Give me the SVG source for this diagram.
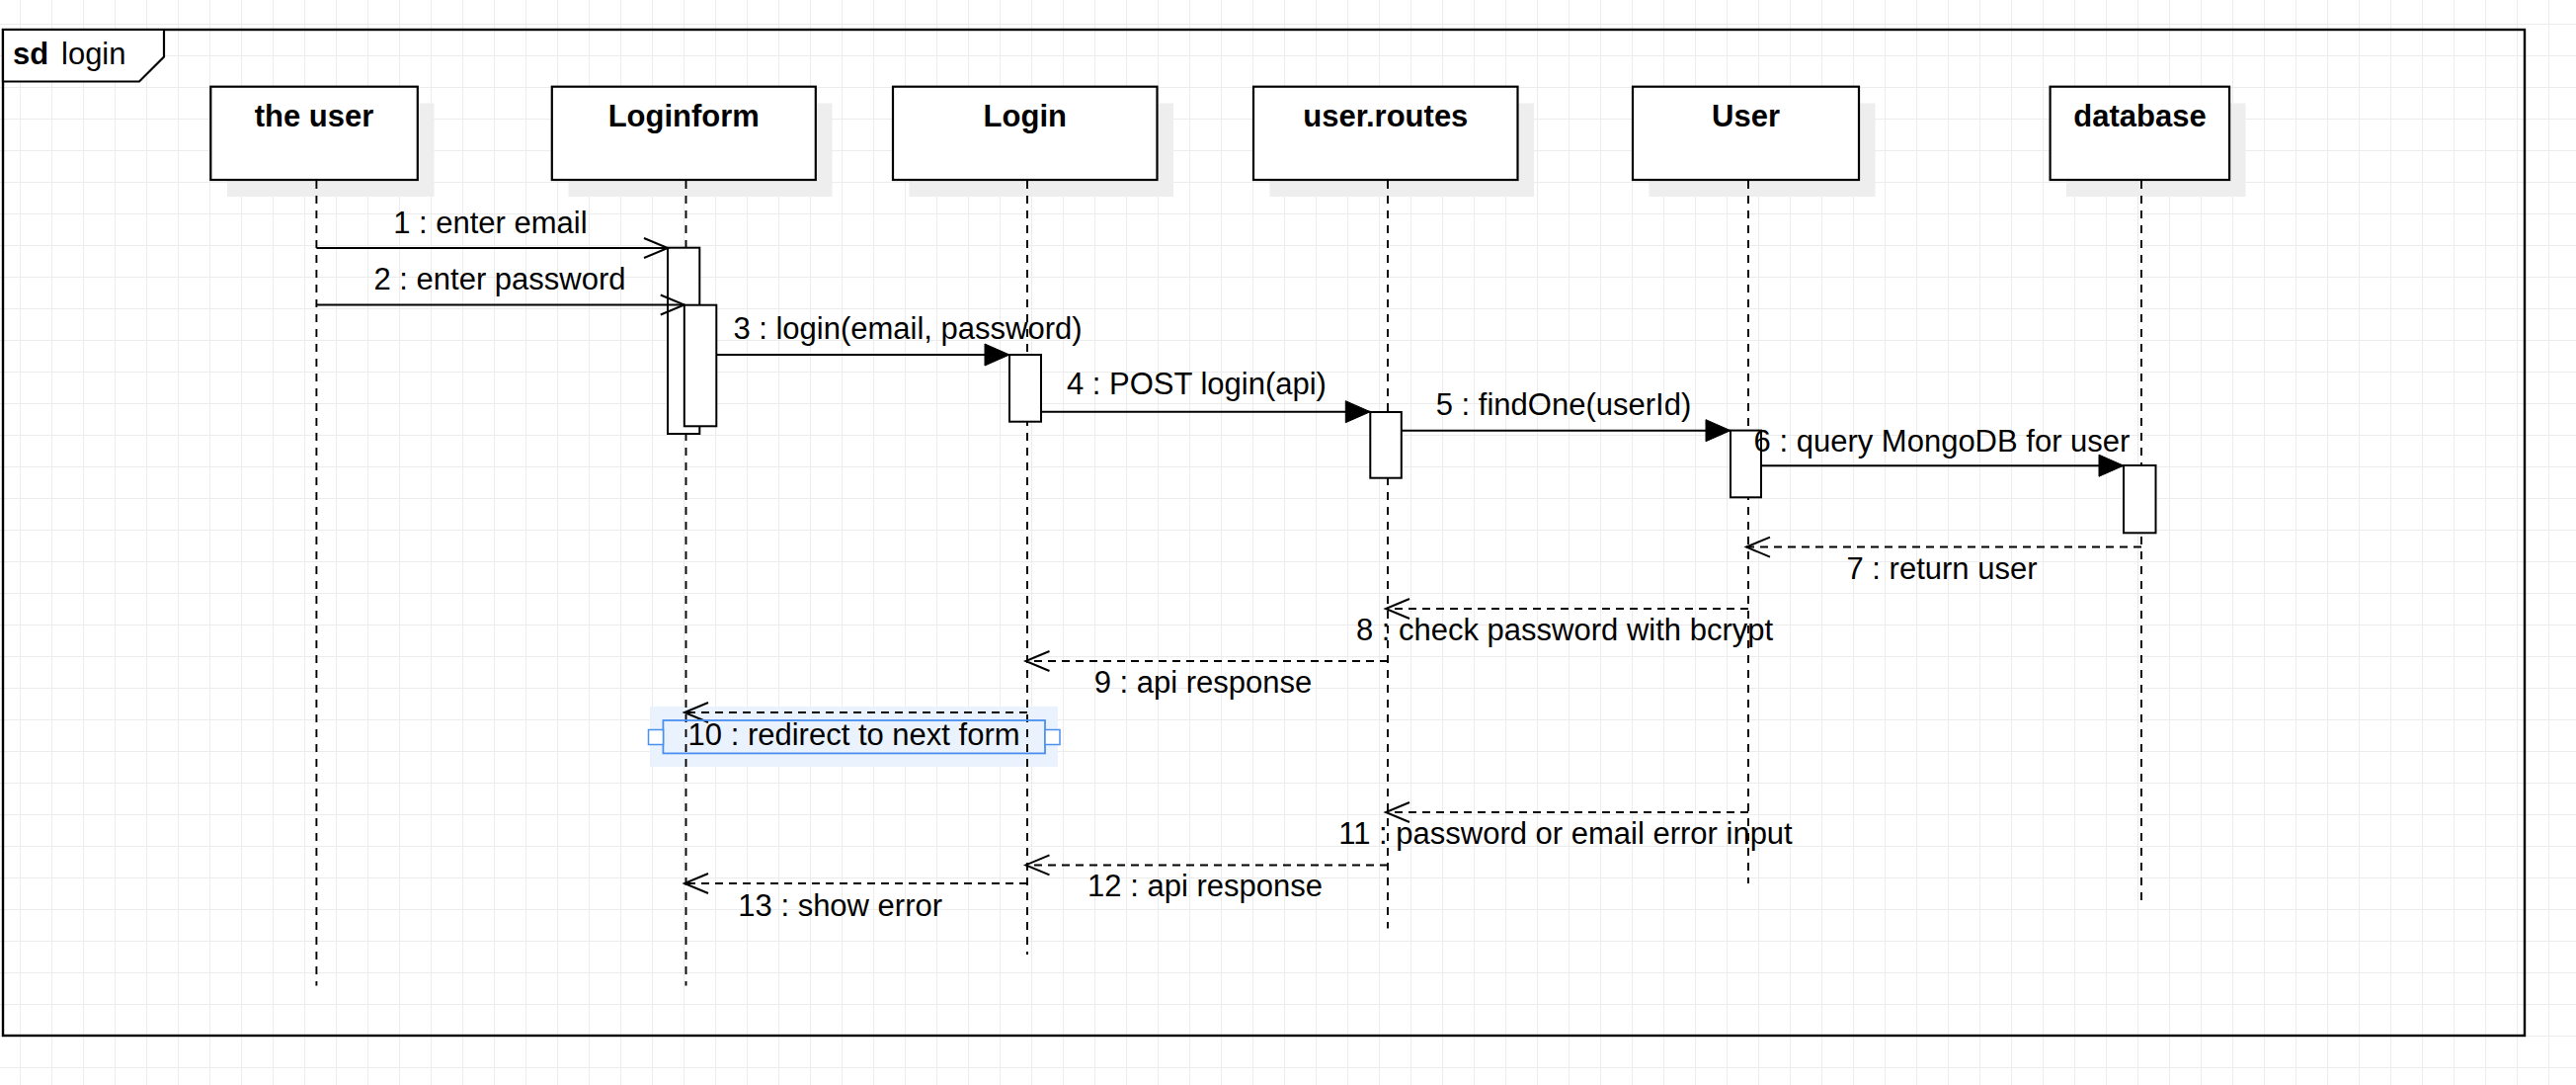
<svg xmlns="http://www.w3.org/2000/svg" width="2608" height="1098" viewBox="0 0 2608 1098">
  <style>
    text { font-family: "Liberation Sans", Arial, Helvetica, sans-serif; font-size: 31px; fill: #000; }
    .hdr { font-weight: bold; text-anchor: middle; }
    .lbl { text-anchor: middle; }
    .box { fill: #ffffff; stroke: #000; stroke-width: 2.2; }
    .shadow { fill: #eeeeee; stroke: none; }
    .life { fill: none; stroke: #000; stroke-width: 1.9; stroke-dasharray: 8 7; }
    .act { fill: #ffffff; stroke: #000; stroke-width: 2; }
    .msg { fill: none; stroke: #000; stroke-width: 2; }
    .sync { marker-end: url(#filled); }
    .open { marker-end: url(#openArrow); }
    .ret { stroke-dasharray: 8 6; marker-end: url(#openArrow); }
    .sel { fill: none; stroke: #4a90f0; stroke-width: 1.8; }
    .handle { fill: #ffffff; stroke: #4a90f0; stroke-width: 1.5; }
  </style>
  <defs>
    <pattern id="grid" patternUnits="userSpaceOnUse" x="20" y="24" width="32" height="32">
      <path d="M0.5,0 V32 M0,0.5 H32" fill="none" stroke="#ececec" stroke-width="1.2"/>
    </pattern>
    <marker id="filled" markerUnits="userSpaceOnUse" markerWidth="26" markerHeight="24" refX="25" refY="11" orient="auto" overflow="visible">
      <path d="M0,0 L25,11 L0,22 Z" fill="#000" stroke="#000" stroke-width="1"/>
    </marker>
    <marker id="openArrow" markerUnits="userSpaceOnUse" markerWidth="26" markerHeight="22" refX="24" refY="10" orient="auto" overflow="visible">
      <path d="M0,0 L24,10 L0,20" fill="none" stroke="#000" stroke-width="2"/>
    </marker>
  </defs>

  <rect x="0" y="0" width="2608" height="1098" fill="#ffffff"/>
  <rect x="0" y="0" width="2608" height="1098" fill="url(#grid)"/>

  <g id="frame">
    <rect x="3" y="30" width="2553" height="1018" fill="none" stroke="#000" stroke-width="2.4"/>
    <path d="M3,30 H166 V57.5 L141,82.5 H3 Z" fill="#ffffff" stroke="#000" stroke-width="2.2"/>
    <text x="13" y="65" font-weight="bold">sd</text>
    <text x="62" y="65">login</text>
  </g>

  <!-- highlight behind selected label 10 -->
  <rect id="selection-highlight" x="658" y="715" width="413" height="61" fill="#e9f2fd"/>

  <g id="lifeline-theuser">
    <rect class="shadow" x="230" y="104.5" width="209.5" height="94.5"/>
    <rect class="box" x="213.3" y="87.7" width="209.5" height="94.3"/>
    <text class="hdr" x="318" y="127.5">the user</text>
    <path class="life" d="M320.4,183 V997.5"/>
  </g>

  <g id="lifeline-loginform">
    <rect class="shadow" x="575.5" y="104.5" width="267" height="94.5"/>
    <rect class="box" x="558.8" y="87.7" width="267" height="94.3"/>
    <text class="hdr" x="692.3" y="127.5">Loginform</text>
    <path class="life" d="M694.5,183 V997.5"/>
    <rect class="act" x="676" y="250.7" width="32.3" height="188.3"/>
    <rect class="act" x="692.8" y="308.7" width="32.5" height="122.6"/>
  </g>

  <g id="lifeline-login">
    <rect class="shadow" x="920.5" y="104.5" width="267.5" height="94.5"/>
    <rect class="box" x="904" y="87.7" width="267.5" height="94.3"/>
    <text class="hdr" x="1037.8" y="127.5">Login</text>
    <path class="life" d="M1040,183 V966"/>
    <rect class="act" x="1022" y="359" width="32" height="67.7"/>
  </g>

  <g id="lifeline-userroutes">
    <rect class="shadow" x="1285.5" y="104.5" width="267.5" height="94.5"/>
    <rect class="box" x="1269" y="87.7" width="267.5" height="94.3"/>
    <text class="hdr" x="1402.8" y="127.5">user.routes</text>
    <path class="life" d="M1405,183 V939.5"/>
    <rect class="act" x="1387.3" y="417" width="31.5" height="66.7"/>
  </g>

  <g id="lifeline-User">
    <rect class="shadow" x="1669.5" y="104.5" width="229" height="94.5"/>
    <rect class="box" x="1653" y="87.7" width="229" height="94.3"/>
    <text class="hdr" x="1767.5" y="127.5">User</text>
    <path class="life" d="M1770,183 V894"/>
    <rect class="act" x="1752" y="435.6" width="31" height="67.7"/>
  </g>

  <g id="lifeline-database">
    <rect class="shadow" x="2092" y="104.5" width="181.5" height="94.5"/>
    <rect class="box" x="2075.6" y="87.7" width="181.5" height="94.3"/>
    <text class="hdr" x="2166.5" y="127.5">database</text>
    <path class="life" d="M2168,183 V911"/>
    <rect class="act" x="2150" y="471" width="32.5" height="68.3"/>
  </g>

  <g id="connectors">
    <path id="m1" class="msg open" d="M320.4,251 H676"/>
    <path id="m2" class="msg open" d="M320.4,308.5 H692.8"/>
    <path id="m3" class="msg sync" d="M725.3,359 H1022"/>
    <path id="m4" class="msg sync" d="M1054,416.7 H1387.3"/>
    <path id="m5" class="msg sync" d="M1418.8,435.7 H1752"/>
    <path id="m6" class="msg sync" d="M1783,471.2 H2150"/>
    <path id="m7" class="msg ret" d="M2168,553.6 H1768"/>
    <path id="m8" class="msg ret" d="M1770,616 H1403"/>
    <path id="m9" class="msg ret" d="M1405,669 H1038.5"/>
    <path id="m10" class="msg ret" d="M1040,721 H693"/>
    <path id="m11" class="msg ret" d="M1770,822 H1403"/>
    <path id="m12" class="msg ret" d="M1405,875.4 H1038.5"/>
    <path id="m13" class="msg ret" d="M1040,894 H693"/>

    <text class="lbl" x="496.4" y="236">1 : enter email</text>
    <text class="lbl" x="506" y="293">2 : enter password</text>
    <text class="lbl" x="919" y="343.3">3 : login(email, password)</text>
    <text class="lbl" x="1211.4" y="399">4 : POST login(api)</text>
    <text class="lbl" x="1583" y="420">5 : findOne(userId)</text>
    <text class="lbl" x="1966" y="457">6 : query MongoDB for user</text>
    <text class="lbl" x="1966" y="586">7 : return user</text>
    <text class="lbl" x="1584" y="648.4">8 : check password with bcrypt</text>
    <text class="lbl" x="1218" y="701">9 : api response</text>
    <text class="lbl" x="864.6" y="754">10 : redirect to next form</text>
    <text class="lbl" x="1585" y="854">11 : password or email error input</text>
    <text class="lbl" x="1220" y="906.6">12 : api response</text>
    <text class="lbl" x="850.7" y="926.6">13 : show error</text>
  </g>

  <g id="selection">
    <rect class="sel" x="671.4" y="729" width="386.6" height="33.4"/>
    <rect class="handle" x="656.5" y="738.5" width="15" height="15"/>
    <rect class="handle" x="1058" y="738.5" width="15" height="15"/>
  </g>
</svg>
